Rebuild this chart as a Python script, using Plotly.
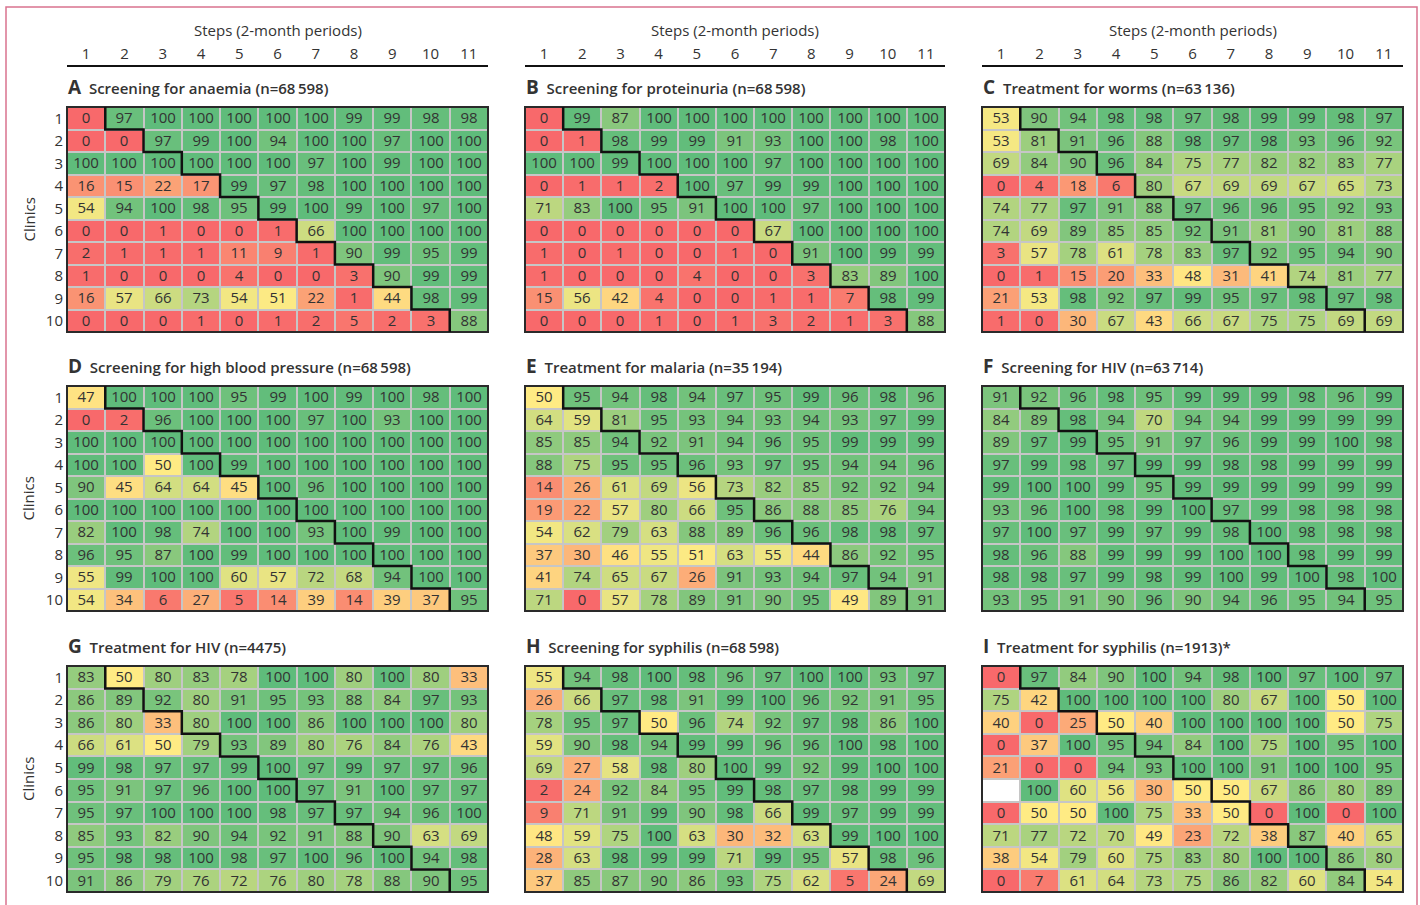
import plotly.graph_objects as go

W, H = 1420, 905

steps = list(range(1, 12))
clinics = list(range(1, 11))
step_labels = [str(s) for s in steps]
clinic_labels = [str(c) for c in clinics]

letters = ["A", "B", "C", "D", "E", "F", "G", "H", "I"]
titles = [
    "Screening for anaemia (n=68\u2009598)",
    "Screening for proteinuria (n=68\u2009598)",
    "Treatment for worms (n=63\u2009136)",
    "Screening for high blood pressure (n=68\u2009598)",
    "Treatment for malaria (n=35\u2009194)",
    "Screening for HIV (n=63\u2009714)",
    "Treatment for HIV (n=4475)",
    "Screening for syphilis (n=68\u2009598)",
    "Treatment for syphilis (n=1913)*",
]

anaemia = [
    [0, 97, 100, 100, 100, 100, 100, 99, 99, 98, 98],
    [0, 0, 97, 99, 100, 94, 100, 100, 97, 100, 100],
    [100, 100, 100, 100, 100, 100, 97, 100, 99, 100, 100],
    [16, 15, 22, 17, 99, 97, 98, 100, 100, 100, 100],
    [54, 94, 100, 98, 95, 99, 100, 99, 100, 97, 100],
    [0, 0, 1, 0, 0, 1, 66, 100, 100, 100, 100],
    [2, 1, 1, 1, 11, 9, 1, 90, 99, 95, 99],
    [1, 0, 0, 0, 4, 0, 0, 3, 90, 99, 99],
    [16, 57, 66, 73, 54, 51, 22, 1, 44, 98, 99],
    [0, 0, 0, 1, 0, 1, 2, 5, 2, 3, 88],
]
proteinuria = [
    [0, 99, 87, 100, 100, 100, 100, 100, 100, 100, 100],
    [0, 1, 98, 99, 99, 91, 93, 100, 100, 98, 100],
    [100, 100, 99, 100, 100, 100, 97, 100, 100, 100, 100],
    [0, 1, 1, 2, 100, 97, 99, 99, 100, 100, 100],
    [71, 83, 100, 95, 91, 100, 100, 97, 100, 100, 100],
    [0, 0, 0, 0, 0, 0, 67, 100, 100, 100, 100],
    [1, 0, 1, 0, 0, 1, 0, 91, 100, 99, 99],
    [1, 0, 0, 0, 4, 0, 0, 3, 83, 89, 100],
    [15, 56, 42, 4, 0, 0, 1, 1, 7, 98, 99],
    [0, 0, 0, 1, 0, 1, 3, 2, 1, 3, 88],
]
worms = [
    [53, 90, 94, 98, 98, 97, 98, 99, 99, 98, 97],
    [53, 81, 91, 96, 88, 98, 97, 98, 93, 96, 92],
    [69, 84, 90, 96, 84, 75, 77, 82, 82, 83, 77],
    [0, 4, 18, 6, 80, 67, 69, 69, 67, 65, 73],
    [74, 77, 97, 91, 88, 97, 96, 96, 95, 92, 93],
    [74, 69, 89, 85, 85, 92, 91, 81, 90, 81, 88],
    [3, 57, 78, 61, 78, 83, 97, 92, 95, 94, 90],
    [0, 1, 15, 20, 33, 48, 31, 41, 74, 81, 77],
    [21, 53, 98, 92, 97, 99, 95, 97, 98, 97, 98],
    [1, 0, 30, 67, 43, 66, 67, 75, 75, 69, 69],
]
blood_pressure = [
    [47, 100, 100, 100, 95, 99, 100, 99, 100, 98, 100],
    [0, 2, 96, 100, 100, 100, 97, 100, 93, 100, 100],
    [100, 100, 100, 100, 100, 100, 100, 100, 100, 100, 100],
    [100, 100, 50, 100, 99, 100, 100, 100, 100, 100, 100],
    [90, 45, 64, 64, 45, 100, 96, 100, 100, 100, 100],
    [100, 100, 100, 100, 100, 100, 100, 100, 100, 100, 100],
    [82, 100, 98, 74, 100, 100, 93, 100, 99, 100, 100],
    [96, 95, 87, 100, 99, 100, 100, 100, 100, 100, 100],
    [55, 99, 100, 100, 60, 57, 72, 68, 94, 100, 100],
    [54, 34, 6, 27, 5, 14, 39, 14, 39, 37, 95],
]
malaria = [
    [50, 95, 94, 98, 94, 97, 95, 99, 96, 98, 96],
    [64, 59, 81, 95, 93, 94, 93, 94, 93, 97, 99],
    [85, 85, 94, 92, 91, 94, 96, 95, 99, 99, 99],
    [88, 75, 95, 95, 96, 93, 97, 95, 94, 94, 96],
    [14, 26, 61, 69, 56, 73, 82, 85, 92, 92, 94],
    [19, 22, 57, 80, 66, 95, 86, 88, 85, 76, 94],
    [54, 62, 79, 63, 88, 89, 96, 96, 98, 98, 97],
    [37, 30, 46, 55, 51, 63, 55, 44, 86, 92, 95],
    [41, 74, 65, 67, 26, 91, 93, 94, 97, 94, 91],
    [71, 0, 57, 78, 89, 91, 90, 95, 49, 89, 91],
]
hiv_screening = [
    [91, 92, 96, 98, 95, 99, 99, 99, 98, 96, 99],
    [84, 89, 98, 94, 70, 94, 94, 99, 99, 99, 99],
    [89, 97, 99, 95, 91, 97, 96, 99, 99, 100, 98],
    [97, 99, 98, 97, 99, 99, 98, 98, 99, 99, 99],
    [99, 100, 100, 99, 95, 99, 99, 99, 99, 99, 99],
    [93, 96, 100, 98, 99, 100, 97, 99, 98, 98, 98],
    [97, 100, 97, 99, 97, 99, 98, 100, 98, 98, 98],
    [98, 96, 88, 99, 99, 99, 100, 100, 98, 99, 99],
    [98, 98, 97, 99, 98, 99, 100, 99, 100, 98, 100],
    [93, 95, 91, 90, 96, 90, 94, 96, 95, 94, 95],
]
hiv_treatment = [
    [83, 50, 80, 83, 78, 100, 100, 80, 100, 80, 33],
    [86, 89, 92, 80, 91, 95, 93, 88, 84, 97, 93],
    [86, 80, 33, 80, 100, 100, 86, 100, 100, 100, 80],
    [66, 61, 50, 79, 93, 89, 80, 76, 84, 76, 43],
    [99, 98, 97, 97, 99, 100, 97, 99, 97, 97, 96],
    [95, 91, 97, 96, 100, 100, 97, 91, 100, 97, 97],
    [95, 97, 100, 100, 100, 98, 97, 97, 94, 96, 100],
    [85, 93, 82, 90, 94, 92, 91, 88, 90, 63, 69],
    [95, 98, 98, 100, 98, 97, 100, 96, 100, 94, 98],
    [91, 86, 79, 76, 72, 76, 80, 78, 88, 90, 95],
]
syphilis_screening = [
    [55, 94, 98, 100, 98, 96, 97, 100, 100, 93, 97],
    [26, 66, 97, 98, 91, 99, 100, 96, 92, 91, 95],
    [78, 95, 97, 50, 96, 74, 92, 97, 98, 86, 100],
    [59, 90, 98, 94, 99, 99, 96, 96, 100, 98, 100],
    [69, 27, 58, 98, 80, 100, 99, 92, 99, 100, 100],
    [2, 24, 92, 84, 95, 99, 98, 97, 98, 99, 99],
    [9, 71, 91, 99, 90, 98, 66, 99, 97, 99, 99],
    [48, 59, 75, 100, 63, 30, 32, 63, 99, 100, 100],
    [28, 63, 98, 99, 99, 71, 99, 95, 57, 98, 96],
    [37, 85, 87, 90, 86, 93, 75, 62, 5, 24, 69],
]
syphilis_treatment = [
    [0, 97, 84, 90, 100, 94, 98, 100, 97, 100, 97],
    [75, 42, 100, 100, 100, 100, 80, 67, 100, 50, 100],
    [40, 0, 25, 50, 40, 100, 100, 100, 100, 50, 75],
    [0, 37, 100, 95, 94, 84, 100, 75, 100, 95, 100],
    [21, 0, 0, 94, 93, 100, 100, 91, 100, 100, 95],
    [None, 100, 60, 56, 30, 50, 50, 67, 86, 80, 89],
    [0, 50, 50, 100, 75, 33, 50, 0, 100, 0, 100],
    [71, 77, 72, 70, 49, 23, 72, 38, 87, 40, 65],
    [38, 54, 79, 60, 75, 83, 80, 100, 100, 86, 80],
    [0, 7, 61, 64, 73, 75, 86, 82, 60, 84, 54],
]

panels = [anaemia, proteinuria, worms, blood_pressure, malaria,
          hiv_screening, hiv_treatment, syphilis_screening, syphilis_treatment]

FONT = "Open Sans"
TXT = "#333333"
colorscale = [[0.0, "#F8696B"], [0.5, "#FFEB84"], [1.0, "#5FBC7B"]]

col_px = [(67, 488), (525, 945), (982, 1403)]
row_px = [(107, 332), (386, 611), (666, 892)]

fig = go.Figure()
shapes = []
annotations = []

for i, z in enumerate(panels):
    r, c = divmod(i, 3)
    suf = "" if i == 0 else str(i + 1)
    xa, ya = "x" + suf, "y" + suf
    text = [["" if v is None else str(v) for v in row] for row in z]
    fig.add_trace(go.Heatmap(
        z=z, x=steps, y=clinics, xaxis=xa, yaxis=ya,
        colorscale=colorscale, zmin=0, zmax=100, showscale=False,
        xgap=2, ygap=2, text=text, texttemplate="%{text}",
        textfont=dict(family=FONT, size=15, color=TXT), hoverinfo="skip",
    ))
    mask = [[1 if v is None else None for v in row] for row in z]
    if any(v is not None for row in mask for v in row):
        fig.add_trace(go.Heatmap(
            z=mask, x=steps, y=clinics, xaxis=xa, yaxis=ya,
            colorscale=[[0, "white"], [1, "white"]], showscale=False,
            xgap=2, ygap=2, hoverinfo="skip",
        ))

    x0p, x1p = col_px[c]
    y0p, y1p = row_px[r]
    hpx = y1p - y0p
    wpx = x1p - x0p
    xdom = [x0p / W, x1p / W]
    ydom = [1 - y1p / H, 1 - y0p / H]

    xkey = "xaxis" + suf
    ykey = "yaxis" + suf
    fig.layout[xkey] = dict(
        domain=xdom, anchor=ya, range=[0.5, len(steps) + 0.5],
        showgrid=False, zeroline=False, showline=False, ticks="",
        side="top", tickmode="array", tickvals=steps, ticktext=step_labels,
        showticklabels=(r == 0), ticklabelstandoff=44,
        tickfont=dict(family=FONT, size=15, color=TXT), automargin=False,
    )
    fig.layout[ykey] = dict(
        domain=ydom, anchor=xa, range=[len(clinics) + 0.5, 0.5],
        showgrid=False, zeroline=False, showline=False, ticks="",
        tickmode="array", tickvals=clinics, ticktext=clinic_labels,
        showticklabels=(c == 0), ticklabelstandoff=3,
        tickfont=dict(family=FONT, size=15, color=TXT), automargin=False,
    )

    # outer border
    shapes.append(dict(type="rect", xref=xa + " domain", yref=ya + " domain",
                       x0=0, x1=1, y0=0, y1=1, line=dict(color="#2a2a2a", width=2)))
    # stepped-wedge boundary
    n = len(clinics)
    pts = []
    for k in range(n):
        xb = k + 1.5
        pts.append((xb, k + 0.5))
        pts.append((xb, k + 1.5))
    path = "M " + " L ".join(f"{px},{py}" for px, py in pts)
    shapes.append(dict(type="path", xref=xa, yref=ya, path=path,
                       line=dict(color="#111111", width=2.5)))

    # panel title
    annotations.append(dict(
        xref=xa + " domain", yref=ya + " domain", x=-0.002, y=1 + 20 / hpx,
        xanchor="left", yanchor="middle", showarrow=False,
        text=f"<span style='font-size:19px'><b>{letters[i]}</b></span>  {titles[i]}",
        font=dict(family=FONT, size=15, color=TXT, weight=600),
    ))
    if r == 0:
        shapes.append(dict(type="line", xref=xa + " domain", yref=ya + " domain",
                           x0=0, x1=1, y0=1 + 41 / hpx, y1=1 + 41 / hpx,
                           line=dict(color="#111111", width=2)))
        annotations.append(dict(
            xref=xa + " domain", yref=ya + " domain", x=0.5, y=1 + 77 / hpx,
            xanchor="center", yanchor="middle", showarrow=False,
            text="Steps (2-month periods)",
            font=dict(family=FONT, size=15, color=TXT),
        ))
    if c == 0:
        annotations.append(dict(
            xref=xa + " domain", yref=ya + " domain", x=-39 / wpx, y=0.5,
            xanchor="center", yanchor="middle", showarrow=False, textangle=-90,
            text="Clinics", font=dict(family=FONT, size=15, color=TXT),
        ))

# outer pink frame
shapes.append(dict(type="rect", xref="paper", yref="paper",
                   x0=6 / W, x1=1417 / W, y0=-0.02, y1=1 - 7 / H,
                   line=dict(color="#d9738f", width=1.5)))

fig.update_layout(
    width=W, height=H, margin=dict(l=0, r=0, t=0, b=0),
    paper_bgcolor="white", plot_bgcolor="#c6c6c6",
    shapes=shapes, annotations=annotations, showlegend=False,
    font=dict(family=FONT, color=TXT),
)

fig.write_html("out.html", config={"displayModeBar": False},
               post_script="document.body.style.margin='0px';")
